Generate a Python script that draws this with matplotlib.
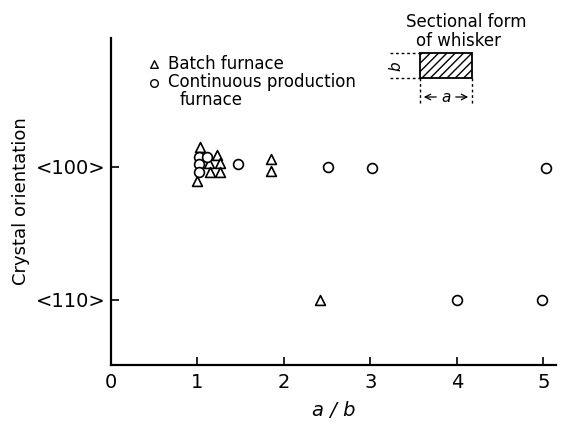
import matplotlib
matplotlib.use("Agg")
import matplotlib.pyplot as plt
from matplotlib.patches import Rectangle

# a/b ratio and orientation level (1 = <100>, 0 = <110>, small offsets are the stacking in the plot)
batch_x = [1.03, 1.00, 1.13, 1.23, 1.26, 1.15, 1.26, 1.85, 1.85, 2.42]
batch_y = [1.15, 0.89, 1.03, 1.09, 1.03, 0.96, 0.96, 1.06, 0.97, 0.00]
cont_x = [1.02, 1.02, 1.02, 1.11, 1.47, 2.51, 3.02, 5.03, 4.00, 4.99]
cont_y = [1.075, 1.02, 0.96, 1.075, 1.02, 1.00, 0.99, 0.99, 0.00, 0.00]

x_ticks = [0, 1, 2, 3, 4, 5]
y_ticks = [1, 0]
y_labels = ["<100>", "<110>"]

fig = plt.figure(figsize=(5.63, 4.25), dpi=100)
ax = fig.add_axes([0.197, 0.141, 0.791, 0.770])

ax.scatter(batch_x, batch_y, marker="^", s=50, facecolors="white",
           edgecolors="black", linewidths=1.2, zorder=3)
ax.scatter(cont_x, cont_y, marker="o", s=50, facecolors="white",
           edgecolors="black", linewidths=1.2, zorder=3)

ax.set_xlim(0, 5.15)
ax.set_ylim(-0.49, 1.97)
ax.set_xticks(x_ticks)
ax.set_xticklabels([str(t) for t in x_ticks])
ax.set_yticks(y_ticks)
ax.set_yticklabels(y_labels)
ax.tick_params(direction="in", length=6, width=1.2, labelsize=14, pad=6)
ax.tick_params(axis="y", pad=4)
for s in ["top", "right"]:
    ax.spines[s].set_visible(False)
for s in ["left", "bottom"]:
    ax.spines[s].set_linewidth(1.6)

ax.set_xlabel("a / b", fontsize=14, style="italic", labelpad=6)
ax.set_ylabel("Crystal orientation", fontsize=13, labelpad=4)

# legend drawn by hand like the original
ax.scatter([0.5], [1.77], marker="^", s=30, facecolors="white",
           edgecolors="black", linewidths=1.0, clip_on=False)
ax.scatter([0.5], [1.63], marker="o", s=30, facecolors="white",
           edgecolors="black", linewidths=1.0, clip_on=False)
ax.text(0.66, 1.77, "Batch furnace", fontsize=12, va="center")
ax.text(0.66, 1.635, "Continuous production", fontsize=12, va="center")
ax.text(0.80, 1.50, "furnace", fontsize=12, va="center")

# sectional form inset (figure pixel coords)
W, H = 563.0, 425.0
def fx(px):
    return px / W
def fy(py):
    return 1 - py / H

fig.text(fx(466), fy(22), "Sectional form", fontsize=12, ha="center", va="center")
fig.text(fx(458), fy(41), "of whisker", fontsize=12, ha="center", va="center")
rect = Rectangle((fx(420), fy(78)), fx(472) - fx(420), fy(53) - fy(78),
                 transform=fig.transFigure, facecolor="white", edgecolor="black",
                 hatch="////", linewidth=1.3)
fig.add_artist(rect)
for yy in [53, 78]:
    fig.add_artist(plt.Line2D([fx(390), fx(420)], [fy(yy), fy(yy)], transform=fig.transFigure,
                              color="black", linestyle=(0, (2, 2)), linewidth=1.0))
for xx in [420, 472]:
    fig.add_artist(plt.Line2D([fx(xx), fx(xx)], [fy(78), fy(103)], transform=fig.transFigure,
                              color="black", linestyle=(0, (2, 2)), linewidth=1.0))
fig.text(fx(396), fy(66), "b", fontsize=11, style="italic", rotation=90, ha="center", va="center")
fig.text(fx(446), fy(97), "a", fontsize=11, style="italic", ha="center", va="center")
ax.annotate("", xy=(fx(421), fy(97)), xytext=(fx(439), fy(97)), xycoords="figure fraction",
            arrowprops=dict(arrowstyle="->", lw=0.9))
ax.annotate("", xy=(fx(471), fy(97)), xytext=(fx(453), fy(97)), xycoords="figure fraction",
            arrowprops=dict(arrowstyle="->", lw=0.9))

fig.savefig("out.png", dpi=100)
